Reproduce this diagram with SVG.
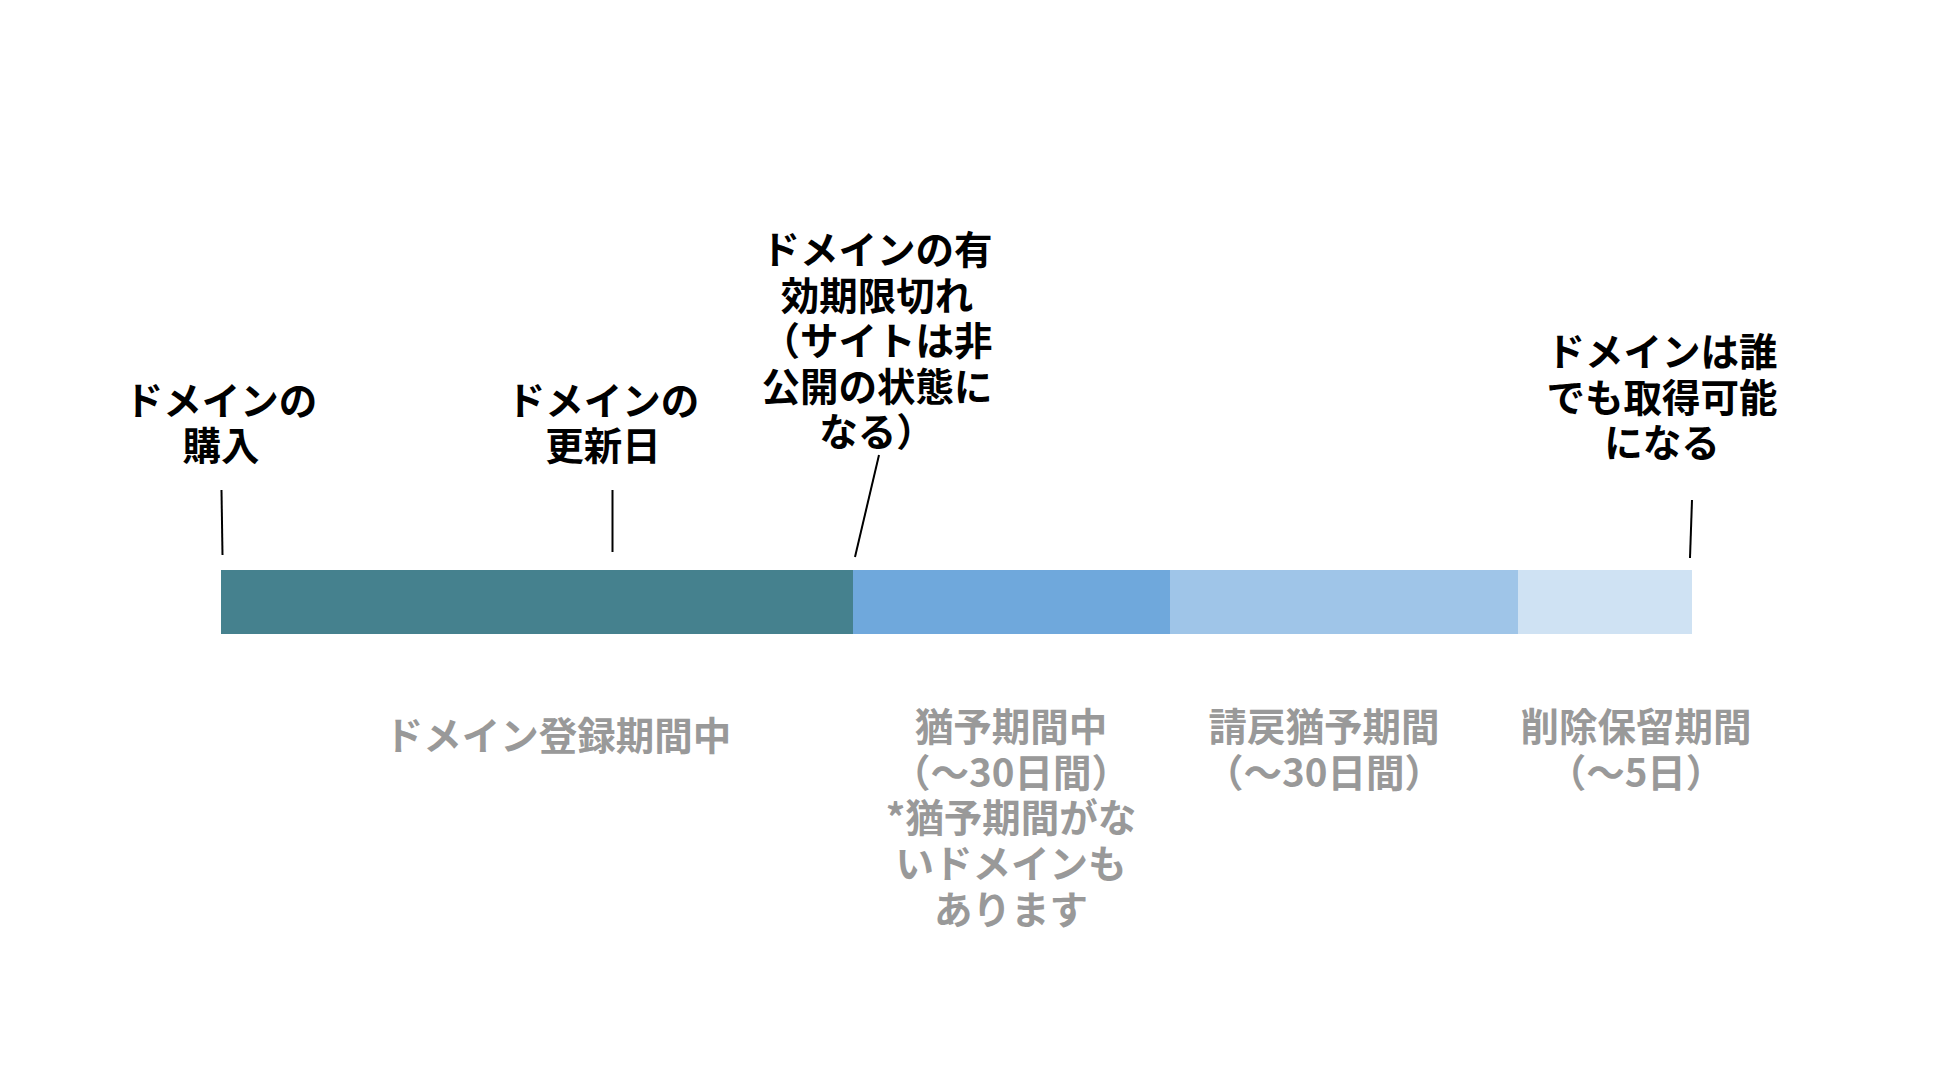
<svg xmlns="http://www.w3.org/2000/svg" width="1946" height="1082" viewBox="0 0 1946 1082">
<style>
.lbl{font-family:"Noto Sans CJK JP","Noto Sans",sans-serif;font-weight:700;font-size:38.5px;fill:#000;text-anchor:middle}
.per{font-family:"Noto Sans CJK JP","Noto Sans",sans-serif;font-weight:700;font-size:38.5px;fill:#999999;text-anchor:middle}
.lead{stroke:#000;stroke-width:2;fill:none}
</style>
<rect width="1946" height="1082" fill="#ffffff"/>
<g id="timeline-bar">
<rect id="seg-registration" x="221" y="570" width="632" height="64" fill="#45818E"/>
<rect id="seg-grace" x="853" y="570" width="317" height="64" fill="#6FA8DC"/>
<rect id="seg-redemption" x="1170" y="570" width="348" height="64" fill="#9FC5E8"/>
<rect id="seg-pending-delete" x="1518" y="570" width="174" height="64" fill="#CFE2F3"/>
</g>
<g id="connectors">
<line class="lead" x1="221.5" y1="490" x2="222.5" y2="555"/>
<line class="lead" x1="612.5" y1="490" x2="612.5" y2="552"/>
<line class="lead" x1="879" y1="455" x2="855" y2="557"/>
<line class="lead" x1="1692" y1="500" x2="1690" y2="558"/>
</g>
<g id="label-purchase">
<text class="lbl" x="221" y="415">ドメインの</text>
<text class="lbl" x="221" y="460">購入</text>
</g>
<g id="label-renewal">
<text class="lbl" x="603" y="415">ドメインの</text>
<text class="lbl" x="603" y="460">更新日</text>
</g>
<g id="label-expiry">
<text class="lbl" x="877" y="264">ドメインの有</text>
<text class="lbl" x="877" y="309.5">効期限切れ</text>
<text class="lbl" x="877" y="355">（サイトは非</text>
<text class="lbl" x="877" y="400.5">公開の状態に</text>
<text class="lbl" x="877" y="446">なる）</text>
</g>
<g id="label-available">
<text class="lbl" x="1662" y="366">ドメインは誰</text>
<text class="lbl" x="1662" y="411.5">でも取得可能</text>
<text class="lbl" x="1662" y="457">になる</text>
</g>
<g id="period-registration">
<text class="per" x="558" y="750">ドメイン登録期間中</text>
</g>
<g id="period-grace">
<text class="per" x="1011" y="741">猶予期間中</text>
<text class="per" x="1011" y="787">（〜30日間）</text>
<text class="per" x="1011" y="832">*猶予期間がな</text>
<text class="per" x="1011" y="878">いドメインも</text>
<text class="per" x="1011" y="924">あります</text>
</g>
<g id="period-redemption">
<text class="per" x="1324" y="741">請戻猶予期間</text>
<text class="per" x="1324" y="787">（〜30日間）</text>
</g>
<g id="period-pending-delete">
<text class="per" x="1636" y="741">削除保留期間</text>
<text class="per" x="1636" y="787">（〜5日）</text>
</g>
</svg>
